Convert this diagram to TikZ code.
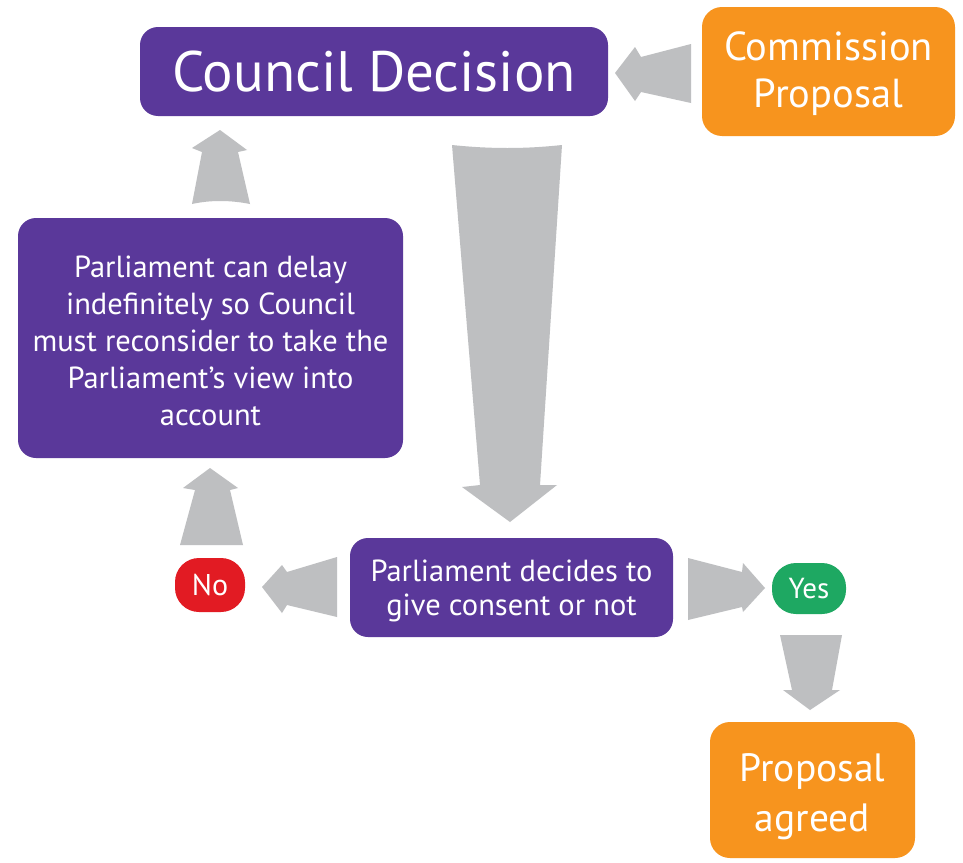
\documentclass[tikz,border=0pt]{standalone}
\usepackage{fontspec}
\setmainfont{PT Sans}
\definecolor{purp}{RGB}{90,56,154}
\definecolor{orng}{RGB}{247,148,30}
\definecolor{arrgray}{RGB}{190,191,193}
\definecolor{redc}{RGB}{226,27,35}
\definecolor{grn}{RGB}{30,168,98}
\begin{document}
\begin{tikzpicture}[x=1pt,y=-1pt,
  pbox/.style={fill=purp, rounded corners=18pt, text=white, align=center, inner sep=0pt},
  obox/.style={fill=orng, rounded corners=20pt, text=white, align=center, inner sep=0pt},
  txt/.style={text=white, align=center, inner sep=0pt},
  blk/.style={fill=arrgray}]
\useasboundingbox[fill=white] (0,0) rectangle (963,862);

% boxes
\node[pbox, minimum width=468pt, minimum height=89pt, font=\fontsize{57}{62}\selectfont] (council) at (374,71.5) {Council Decision};
\node[obox, minimum width=253pt, minimum height=129pt] (commission) at (828.5,71.5) {};
\node[txt, font=\fontsize{40.5}{47}\selectfont] (commissiontxt) at ([yshift=-2pt]commission.center) {Commission\\Proposal};
\node[pbox, minimum width=385pt, minimum height=240pt] (delay) at (210.5,338) {};
\node[txt, font=\fontsize{30.5}{37}\selectfont] (delaytxt) at ([yshift=-3pt]delay.center) {Parliament can delay\\indefinitely so Council\\must reconsider to take the\\Parliament’s view into\\account};
\node[pbox, minimum width=323pt, minimum height=99pt] (decides) at (511.5,587.5) {};
\node[txt, font=\fontsize{30.5}{34}\selectfont] (decidestxt) at ([yshift=-3pt]decides.center) {Parliament decides to\\give consent or not};
\node[fill=redc, rounded corners=24pt, minimum width=70pt, minimum height=54pt, inner sep=0pt, text=white, font=\fontsize{30}{34}\selectfont] (no) at (210,585) {No};
\node[fill=grn, rounded corners=24pt, minimum width=74pt, minimum height=51pt, inner sep=0pt, text=white, font=\fontsize{29}{33}\selectfont] (yes) at (809,588.5) {Yes};
\node[obox, minimum width=205pt, minimum height=136pt] (agreed) at (812.5,790) {};
\node[txt, font=\fontsize{39.5}{50}\selectfont] (agreedtxt) at ([yshift=-7pt]agreed.center) {Proposal\\agreed};

% block arrows
% commission -> council
\fill[blk] (615,73) -- (635,47) -- (641,57) -- (691,44) -- (691,103) -- (641,92) -- (635,101) -- cycle;
% delay -> council
\fill[blk] (220,130) -- (247,150) -- (238,152) -- (250,204) .. controls (230,200) and (210,200) .. (192,204) -- (202,152) -- (192,148) -- cycle;
% council -> decides (big)
\fill[blk] (452,145) .. controls (490,149) and (525,149) .. (562,145) -- (540,485) -- (557,485) -- (510,522) -- (462,487) -- (480,485) -- cycle;
% no -> delay
\fill[blk] (210,468) -- (238,488) -- (230,490) -- (243,545) -- (180,545) -- (195,490) -- (183,488) -- cycle;
% decides -> no
\fill[blk] (262,587) -- (282,565) -- (287,572) -- (337,557) -- (337,617) -- (287,605) -- (282,613) -- cycle;
% decides -> yes
\fill[blk] (765,588) -- (743,563) -- (742,572) -- (688,558) -- (688,620) -- (742,607) -- (743,612) -- cycle;
% yes -> agreed
\fill[blk] (810,710) -- (840,690) -- (832,690) -- (842,635) -- (780,635) -- (792,690) -- (783,690) -- cycle;
\end{tikzpicture}
\end{document}
